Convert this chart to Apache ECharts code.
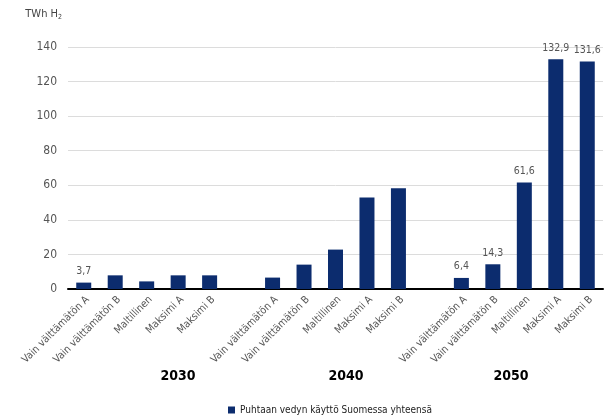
<!DOCTYPE html>
<html>
<head>
<meta charset="utf-8">
<script src="https://cdn.jsdelivr.net/npm/echarts@6/dist/echarts.min.js"></script>
<style>
  html, body { margin: 0; padding: 0; background: #ffffff; }
  #chart { width: 614px; height: 417px; }
</style>
</head>
<body>
<div id="chart"></div>
<script>
// Scenario names repeated for each year; empty slots separate the year groups
const scenarios = ['Vain välttämätön A', 'Vain välttämätön B', 'Maltillinen', 'Maksimi A', 'Maksimi B'];
const years = ['2030', '2040', '2050'];

// Clean hydrogen use in Finland, TWh H2
const values2030 = [3.7, 7.9, 4.4, 7.9, 7.9];
const values2040 = [6.6, 14.1, 22.8, 52.9, 58.3];
const values2050 = [6.4, 14.3, 61.6, 132.9, 131.6];

// Which bars carry a value label: [year index, scenario index]
const labelledBars = [[0, 0], [2, 0], [2, 1], [2, 2], [2, 3], [2, 4]];

const yTicks = [0, 20, 40, 60, 80, 100, 120, 140];
const seriesName = 'Puhtaan vedyn käyttö Suomessa yhteensä';

const FONT = '"Liberation Sans Narrow", "DejaVu Sans Condensed", sans-serif';
const BAR = '#0c2c6e';

// Build the category axis and data with a blank slot between the years
const groups = [values2030, values2040, values2050];
const categories = [];
const data = [];
groups.forEach((vals, g) => {
  if (g > 0) { categories.push(' ' + g); data.push(null); }
  vals.forEach((v, i) => {
    categories.push(scenarios[i] + (g > 0 ? '\u200b'.repeat(g) : ''));
    const labelled = labelledBars.some(p => p[0] === g && p[1] === i);
    data.push({ value: v, label: { show: labelled } });
  });
});

const chart = echarts.init(document.getElementById('chart'), null, { renderer: 'canvas' });
chart.setOption({
  animation: false,
  textStyle: { fontFamily: FONT },
  grid: { left: 68, right: 11, top: 47, bottom: 128, containLabel: false },
  legend: {
    data: [seriesName],
    left: 223, top: 400,
    itemWidth: 7, itemHeight: 7, itemGap: 5,
    icon: 'rect',
    textStyle: { fontFamily: FONT, fontSize: 10, color: '#222' }
  },
  xAxis: {
    type: 'category',
    data: categories,
    axisLine: { show: true, lineStyle: { color: '#000', width: 2 } },
    axisTick: { show: false },
    axisLabel: {
      interval: 0, rotate: 45, margin: 5, verticalAlign: 'top',
      fontFamily: FONT, fontSize: 10.5, color: '#555',
      formatter: v => v.trim().replace(/\u200b/g, '').replace(/^\d+$/, '')
    }
  },
  yAxis: {
    type: 'value',
    min: 0, max: 140, interval: 20,
    name: '{a|TWh H}{s|2}',
    nameLocation: 'end',
    nameGap: 26,
    nameTextStyle: {
      align: 'right', padding: [0, 6, 0, 0],
      rich: {
        a: { fontFamily: FONT, fontSize: 11, color: '#444' },
        s: { fontFamily: FONT, fontSize: 7, color: '#444', padding: [6, 0, 0, 0] }
      }
    },
    axisLine: { show: false },
    axisTick: { show: false },
    axisLabel: {
      margin: 11, fontFamily: FONT, fontSize: 12, color: '#555',
      formatter: v => yTicks.includes(v) ? String(v) : ''
    },
    splitLine: { lineStyle: { color: '#dcdcdc', width: 1 } }
  },
  series: [{
    name: seriesName,
    type: 'bar',
    data: data,
    barWidth: 15,
    itemStyle: { color: BAR },
    label: {
      position: 'top', distance: 6,
      fontFamily: FONT, fontSize: 10.5, color: '#555',
      formatter: p => String(p.value).replace('.', ',')
    }
  }],
  graphic: years.map((y, i) => ({
    type: 'text',
    x: [178, 346, 511][i],
    y: 376,
    style: { text: y, font: 'bold 14px ' + FONT, fill: '#000', align: 'center', verticalAlign: 'middle' }
  }))
});
</script>
</body>
</html>
